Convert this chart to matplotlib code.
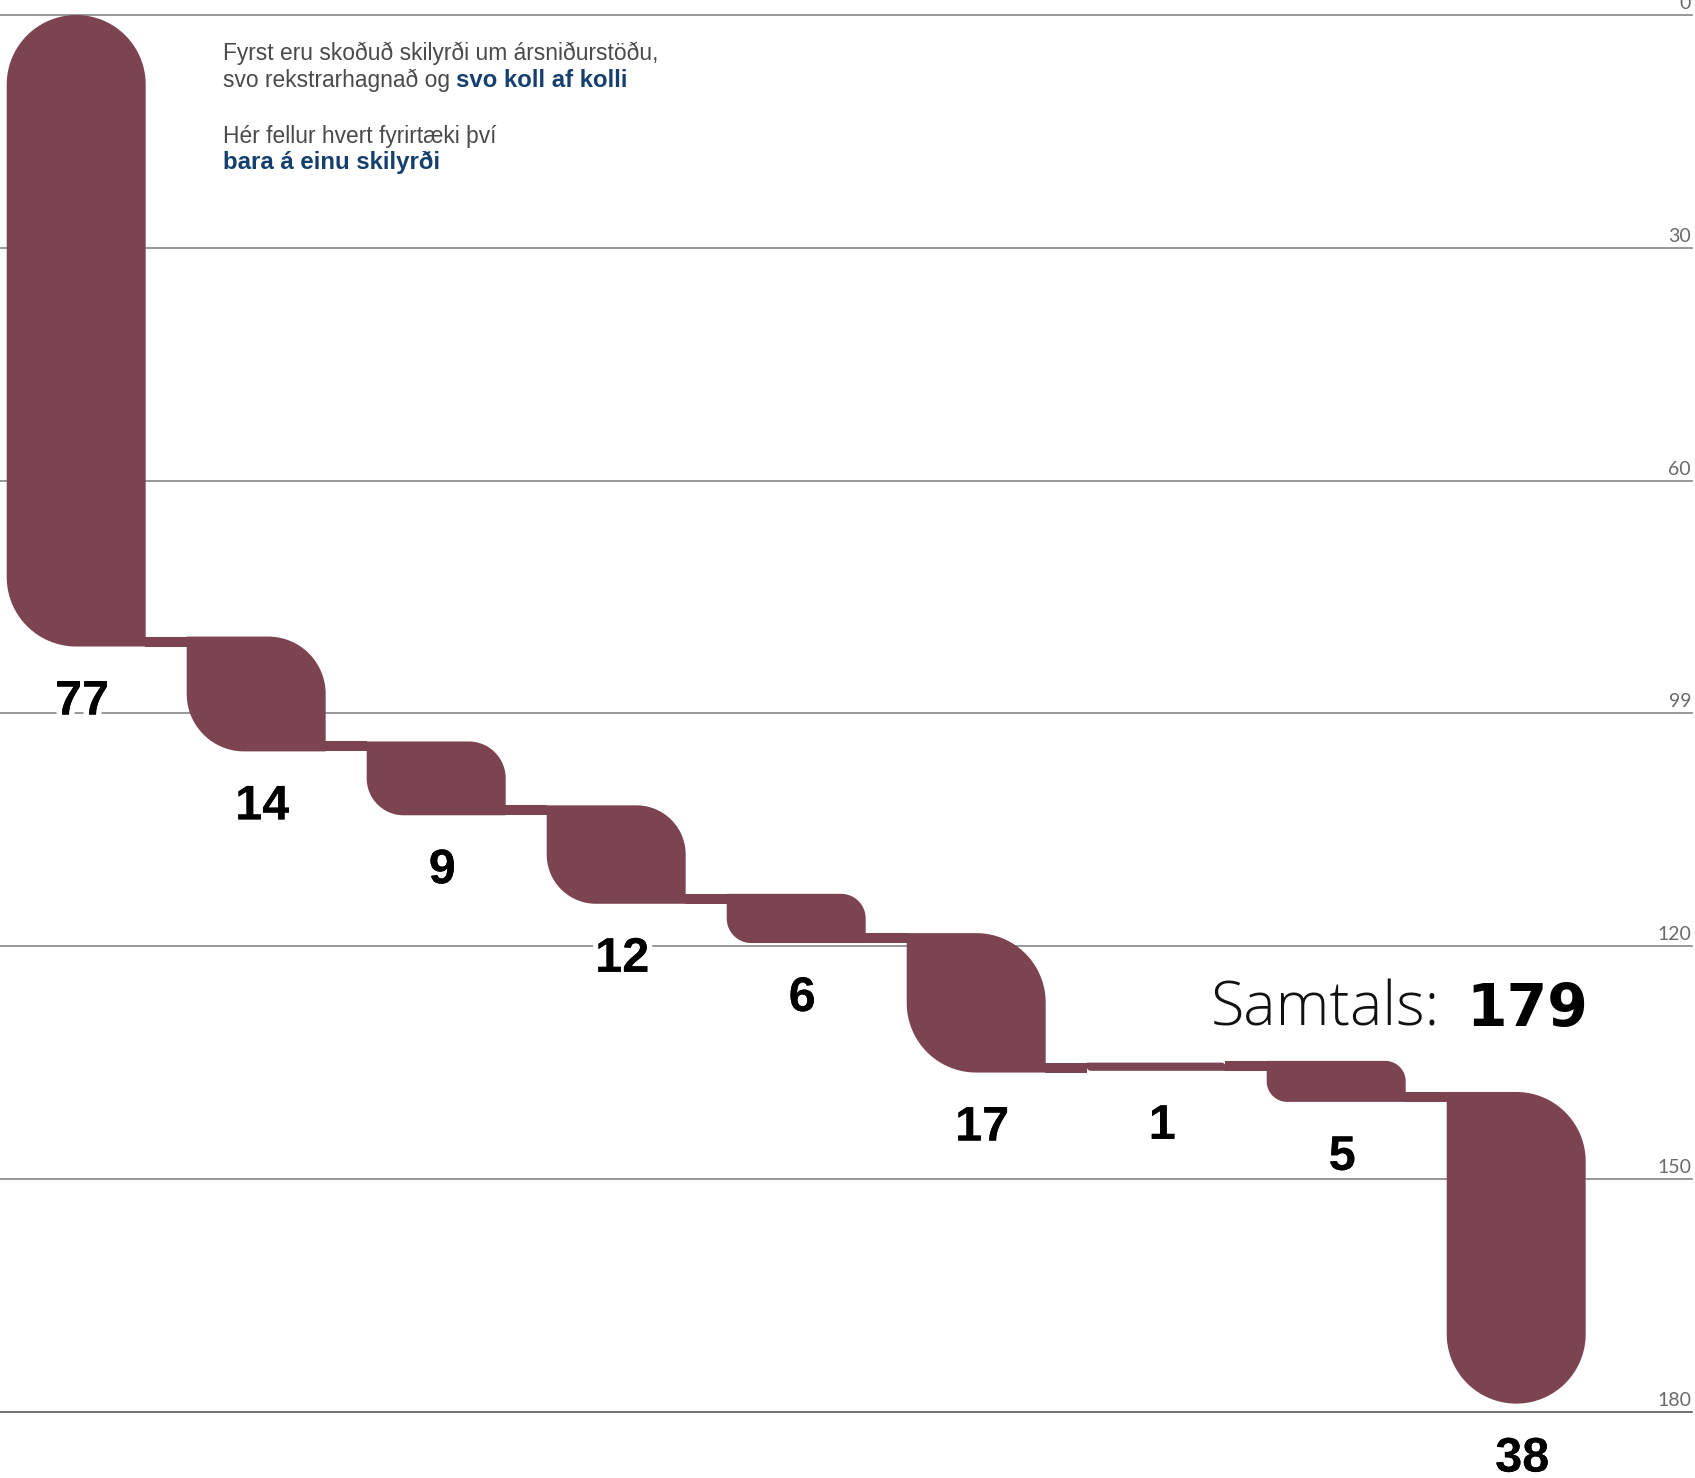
import numpy as np
import matplotlib
matplotlib.use("Agg")
import matplotlib.pyplot as plt
from matplotlib.patches import Polygon, Rectangle
import matplotlib.patheffects as pe

# ---------------- data ----------------
values = [77, 14, 9, 12, 6, 17, 1, 5, 38]
value_labels = [str(v) for v in values]
grid_ticks = [0, 30, 60, 90, 120, 150, 180]
grid_labels = ["0", "30", "60", "99", "120", "150", "180"]
total_label = "Samtals:"
note_line1 = "Fyrst eru skoðuð skilyrði um ársniðurstöðu,"
note_line2a = "svo rekstrarhagnað og"
note_line2b = "svo koll af kolli"
note_line3 = "Hér fellur hvert fyrirtæki því"
note_line4 = "bara á einu skilyrði"

# ---------------- style ----------------
W, H, DPI = 1695, 1478, 100
BAR_COLOR = "#7c4351"
GRID_COLOR = "#858585"
BLUE = "#153f6e"
GRAY_TXT = "#4a4a4a"
BAR_W = 0.772          # in category units
STEP_SCALE = 1.057     # drawing scale of a step relative to axis units
OVERLAP = 1.28         # overlap of consecutive steps (axis units)

fig = plt.figure(figsize=(W / DPI, H / DPI), dpi=DPI)
ax = fig.add_axes([0, 0, 1, 1])
ax.set_xlim(-0.4233, 8.9933)
ax.set_ylim(188.55, -1.933)
ax.axis("off")

ppx = W / (ax.get_xlim()[1] - ax.get_xlim()[0])
ppy = H / (ax.get_ylim()[0] - ax.get_ylim()[1])

def px2fig(x, y):
    return x / W, 1 - y / H

# gridlines + tick labels
for t, lab in zip(grid_ticks, grid_labels):
    ax.axhline(t, xmin=0, xmax=1692 / W, color=GRID_COLOR if t != 180 else "#5a5a5a",
               lw=1.2, zorder=0)
    ax.annotate(lab, xy=(1691 / W, t), xycoords=("axes fraction", "data"),
                xytext=(0, 4.3), textcoords="offset points", ha="right", va="baseline",
                fontsize=14, color="#6a6a6a", family=["Lato", "DejaVu Sans"],
                fontweight="normal", zorder=1)

# step geometry from the data
n = len(values)
tops, bottoms = [], []
cur = 0.0
for v in values:
    tops.append(cur)
    b = cur + v * STEP_SCALE
    bottoms.append(b)
    cur = b - OVERLAP

def corner(cx, cy, rx, ry, a0, a1, k=40):
    a = np.radians(np.linspace(a0, a1, k))
    return np.c_[cx + rx * np.cos(a), cy + ry * np.sin(a)]

for i, v in enumerate(values):
    x0, x1 = i - BAR_W / 2, i + BAR_W / 2
    y0, y1 = tops[i], bottoms[i]
    r = min(BAR_W * ppx, (y1 - y0) * ppy) / 2
    rx, ry = r / ppx, r / ppy
    tl = i == 0
    br = i == n - 1
    pts = []
    pts.append(corner(x0 + rx, y0 + ry, rx, ry, 180, 270) if tl else np.array([[x0, y0]]))
    pts.append(corner(x1 - rx, y0 + ry, rx, ry, 270, 360))
    pts.append(corner(x1 - rx, y1 - ry, rx, ry, 0, 90) if br else np.array([[x1, y1]]))
    pts.append(corner(x0 + rx, y1 - ry, rx, ry, 90, 180))
    ax.add_patch(Polygon(np.vstack(pts), closed=True, fc=BAR_COLOR, ec="none",
                         zorder=2, antialiased=True))
    # connector to next step
    if i < n - 1:
        ax.add_patch(Rectangle((x1 - 0.002, tops[i + 1]), (i + 1 - BAR_W / 2) - x1 + 0.004,
                               y1 - tops[i + 1], fc=BAR_COLOR, ec="none", zorder=2))
    # value label
    ax.text(i + 6 / ppx, y1 + 68 / ppy, value_labels[i], ha="center", va="baseline",
            fontsize=35, fontweight="bold", family=["Liberation Sans", "DejaVu Sans"],
            color="black", zorder=3,
            path_effects=[pe.withStroke(linewidth=8, foreground="white"), pe.Normal()])

# total
fx, fy = px2fig(1440, 1026)
fig.text(fx, fy, total_label, ha="right", va="baseline", fontsize=44,
         family=["Open Sans", "Lato", "DejaVu Sans"], fontweight=300, color="#111111")
fx, fy = px2fig(1466, 1026)
fig.text(fx, fy, str(sum(values)), ha="left", va="baseline", fontsize=42,
         family=["DejaVu Sans"], fontweight="bold", color="black")

# notes
note_kw = dict(fontsize=16.4, family=["Liberation Sans", "DejaVu Sans"], fontweight="normal",
               color=GRAY_TXT, ha="left", va="baseline")
bold_kw = dict(fontsize=17.3, family=["Liberation Sans", "DejaVu Sans"], fontweight="bold",
               color=BLUE, ha="left", va="baseline")
fig.text(*px2fig(223, 60), note_line1, **note_kw)
t2 = fig.text(*px2fig(223, 86.7), note_line2a, **note_kw)
ax.annotate(note_line2b, xy=(1, 0), xycoords=t2, xytext=(4, 0), textcoords="offset points",
            **{**bold_kw, "va": "bottom"})
fig.text(*px2fig(223, 143.3), note_line3, **note_kw)
fig.text(*px2fig(223, 169), note_line4, **bold_kw)

fig.savefig("out.png", dpi=DPI)
